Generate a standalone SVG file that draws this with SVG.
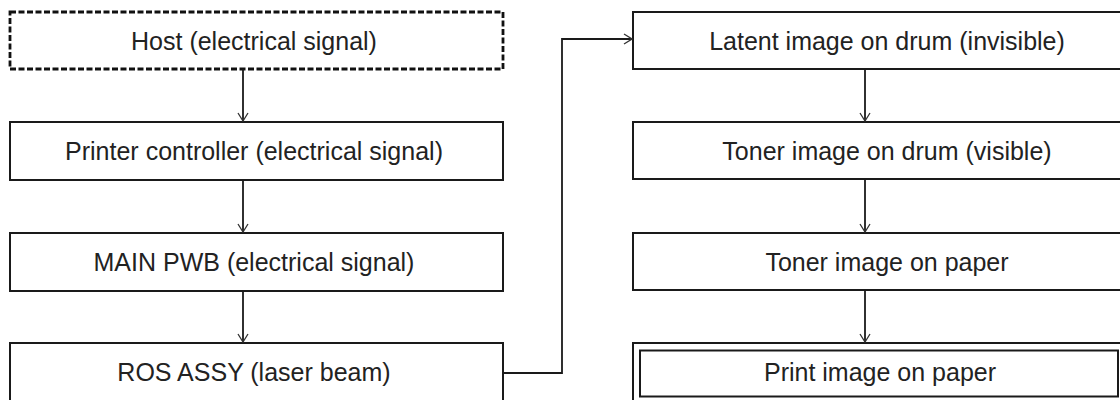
<svg xmlns="http://www.w3.org/2000/svg" width="1120" height="400" viewBox="0 0 1120 400">
<style>
  .box { fill: #ffffff; stroke: #1a1a1a; stroke-width: 2; }
  .dash { fill: #ffffff; stroke: #111111; stroke-width: 2.8; stroke-dasharray: 6 2.5; }
  .lbl { font-family: "Liberation Sans", Arial, sans-serif; font-size: 25px; fill: #222222; text-anchor: middle; }
  .con { fill: none; stroke: #1a1a1a; stroke-width: 1.8; }
</style>
<defs>
  <marker id="arr" viewBox="0 0 10 12" refX="9" refY="6" markerWidth="10" markerHeight="12" markerUnits="userSpaceOnUse" orient="auto">
    <path d="M1,1 L9,6 L1,11" fill="none" stroke="#333333" stroke-width="1.3"/>
  </marker>
</defs>
<rect width="1120" height="400" fill="#ffffff"/>

<g id="host">
  <rect class="dash" x="10" y="12" width="493" height="57"/>
  <text class="lbl" x="254" y="49.5">Host (electrical signal)</text>
</g>
<g id="printer-controller">
  <rect class="box" x="10" y="122" width="493" height="58"/>
  <text class="lbl" x="254" y="160">Printer controller (electrical signal)</text>
</g>
<g id="main-pwb">
  <rect class="box" x="10" y="233" width="493" height="58"/>
  <text class="lbl" x="254" y="271">MAIN PWB (electrical signal)</text>
</g>
<g id="ros-assy">
  <rect class="box" x="10" y="343" width="493" height="70"/>
  <text class="lbl" x="254" y="381">ROS ASSY (laser beam)</text>
</g>

<g id="latent-image">
  <rect class="box" x="633" y="12" width="508" height="57"/>
  <text class="lbl" x="887" y="49.5">Latent image on drum (invisible)</text>
</g>
<g id="toner-drum">
  <rect class="box" x="633" y="122" width="508" height="57"/>
  <text class="lbl" x="887" y="160">Toner image on drum (visible)</text>
</g>
<g id="toner-paper">
  <rect class="box" x="633" y="233" width="508" height="57"/>
  <text class="lbl" x="887" y="271">Toner image on paper</text>
</g>
<g id="print-image">
  <rect class="box" x="633" y="343" width="508" height="70"/>
  <rect class="box" x="640" y="350.5" width="478" height="46"/>
  <text class="lbl" x="880" y="381">Print image on paper</text>
</g>

<g id="connectors">
  <line class="con" x1="243" y1="69" x2="243" y2="121" marker-end="url(#arr)"/>
  <line class="con" x1="243" y1="180" x2="243" y2="232" marker-end="url(#arr)"/>
  <line class="con" x1="243" y1="291" x2="243" y2="342" marker-end="url(#arr)"/>
  <polyline class="con" points="503,373 562,373 562,39 632,39" marker-end="url(#arr)"/>
  <line class="con" x1="865" y1="69" x2="865" y2="121" marker-end="url(#arr)"/>
  <line class="con" x1="865" y1="179" x2="865" y2="232" marker-end="url(#arr)"/>
  <line class="con" x1="865" y1="290" x2="865" y2="342" marker-end="url(#arr)"/>
</g>
</svg>
